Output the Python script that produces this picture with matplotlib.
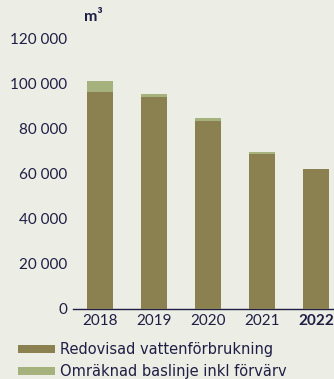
import matplotlib
matplotlib.use("Agg")
import matplotlib.pyplot as plt
import numpy as np
from matplotlib.patches import Patch

years = ["2018", "2019", "2020", "2021", "2022"]
reported = [96350, 94100, 83450, 68800, 62300]
baseline = [101200, 95300, 84800, 69700, np.nan]
yticks = [0, 20000, 40000, 60000, 80000, 100000, 120000]
ytick_labels = ["0", "20 000", "40 000", "60 000", "80 000", "100 000", "120 000"]
legend_labels = ["Redovisad vattenförbrukning", "Omräknad baslinje inkl förvärv"]
unit = "m³"

bg = "#ecede4"
dark = "#8b8150"
light = "#a5b27d"
navy = "#1f1e45"

plt.rcParams["font.family"] = ["Lato", "DejaVu Sans"]

fig = plt.figure(figsize=(3.34, 3.79), dpi=100, facecolor=bg)
ax = fig.add_axes([73/334, 70/379, 261/334, 270.5/379])
ax.set_facecolor(bg)

x = np.arange(len(years))
w = 0.48
ax.bar(x, baseline, width=w, color=light, zorder=2)
ax.bar(x, reported, width=w, color=dark, zorder=3)

ax.set_xlim(-0.5, 4.333)
ax.set_ylim(0, 120000)
ax.set_yticks(yticks)
ax.set_yticklabels(ytick_labels)
ax.set_xticks(x)
ax.set_xticklabels(years)
for i, lab in enumerate(ax.get_xticklabels()):
    if i == len(years) - 1:
        lab.set_fontweight("bold")
ax.tick_params(axis="both", length=0, labelsize=11, colors=navy)
ax.tick_params(axis="y", pad=4)
ax.tick_params(axis="x", pad=3.5)
for s in ["top", "right", "left"]:
    ax.spines[s].set_visible(False)
ax.spines["bottom"].set_color(navy)
ax.spines["bottom"].set_linewidth(1.0)

fig.text(84/334, 1 - 17/379, unit, fontsize=11.5, fontweight="bold", color=navy,
         ha="left", va="center")

handles = [Patch(facecolor=dark), Patch(facecolor=light)]
leg = fig.legend(handles, legend_labels, loc="center left",
                 bbox_to_anchor=(18/334, 1 - 360.5/379), frameon=False,
                 prop={"family": ["DejaVu Sans"], "size": 10.5},
                 handlelength=2.55, handleheight=0.5,
                 handletextpad=0.33, labelspacing=0.5, borderpad=0,
                 borderaxespad=0)
for t in leg.get_texts():
    t.set_color(navy)

fig.savefig("out.png", dpi=100, facecolor=bg)
